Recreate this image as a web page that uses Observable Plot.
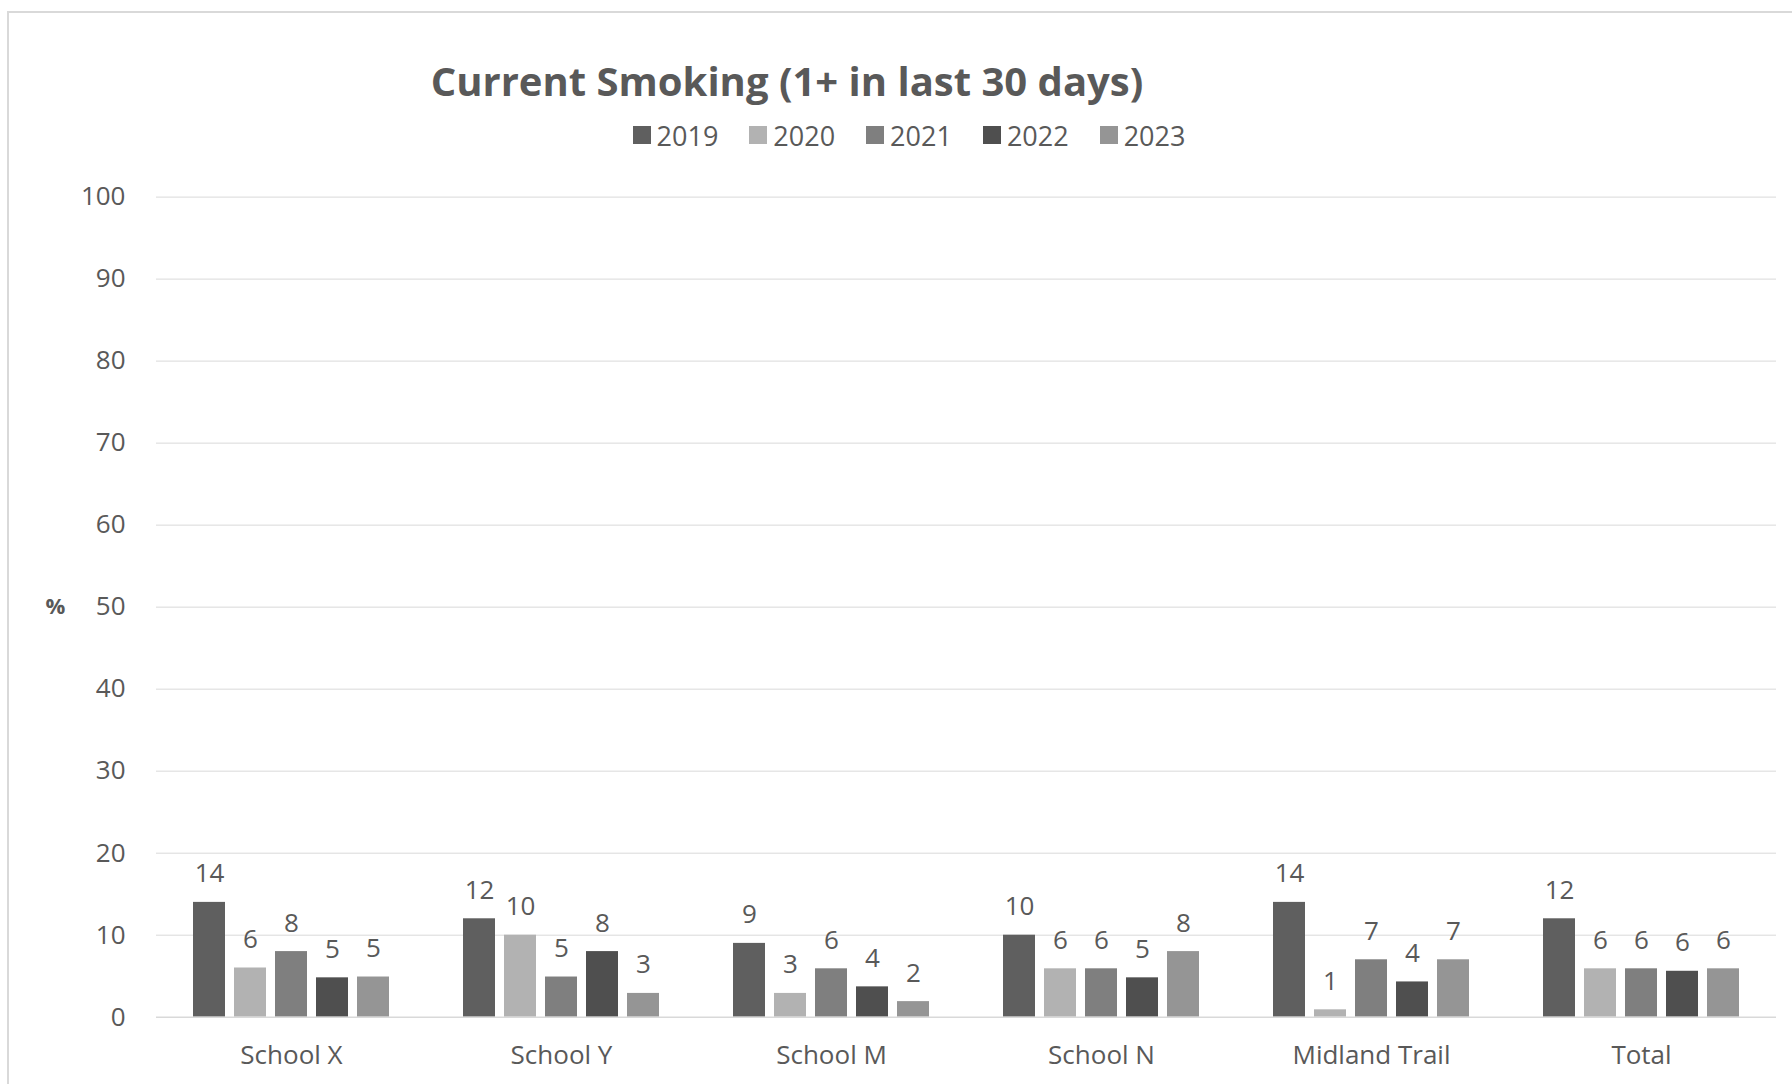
<!DOCTYPE html>
<html>
<head>
<meta charset="utf-8">
<script src="https://cdn.jsdelivr.net/npm/d3@7"></script>
<script src="https://cdn.jsdelivr.net/npm/@observablehq/plot@0.6"></script>
<style>
  html, body { margin: 0; padding: 0; background: #fff; overflow: hidden; }
  body { width: 1792px; height: 1084px; position: relative; font-family: "Open Sans", sans-serif; color: #595959; }
  #frame { position: absolute; left: 7px; top: 11px; width: 1800px; height: 1100px; border: 2px solid #d9d9d9; box-sizing: border-box; pointer-events: none; }
  #title { margin-top: 57px; width: 1574px; height: 48px; line-height: 48px; text-align: center; font-size: 40px; font-weight: 700; white-space: nowrap; }
  #legend { margin-top: 14px; width: 1818px; height: 32px; display: flex; justify-content: center; align-items: center; font-size: 27px; white-space: nowrap; }
  .item { display: flex; align-items: center; margin: 0 15.5px; }
  .sw { width: 18px; height: 18px; margin-right: 6px; }
  #chart { margin-top: 2px; }
  #chart svg { display: block; }
</style>
</head>
<body>
<div id="frame"></div>
<div id="title">Current Smoking (1+ in last 30 days)</div>
<div id="legend"></div>
<div id="chart"></div>
<script>
const categories = ["School X", "School Y", "School M", "School N", "Midland Trail", "Total"];
const years = ["2019", "2020", "2021", "2022", "2023"];
const v2019 = [14, 12, 9, 10, 14, 12];
const v2020 = [6, 10, 2.9, 5.9, 0.9, 5.9];
const v2021 = [8, 4.9, 5.9, 5.9, 7, 5.9];
const v2022 = [4.8, 8, 3.7, 4.8, 4.3, 5.6];
const v2023 = [4.9, 2.9, 1.9, 8, 7, 5.9];
const yTicks = [0, 10, 20, 30, 40, 50, 60, 70, 80, 90, 100];
const colors = ["#5f5f5f", "#b2b2b2", "#7f7f7f", "#4f4f4f", "#959595"];
const yLabel = "%";

const seriesList = [v2019, v2020, v2021, v2022, v2023];
const data = [];
categories.forEach((c, i) => {
  years.forEach((y, j) => {
    data.push({category: c, year: y, value: seriesList[j][i]});
  });
});

// legend
const legend = document.getElementById("legend");
years.forEach((y, j) => {
  const it = document.createElement("div");
  it.className = "item";
  const sw = document.createElement("div");
  sw.className = "sw";
  sw.style.background = colors[j];
  const t = document.createElement("span");
  t.textContent = y;
  it.appendChild(sw);
  it.appendChild(t);
  legend.appendChild(it);
});

const fmt = d3.format(".0f");

const chart = Plot.plot({
  width: 1792,
  height: 931,
  marginTop: 43.6,
  marginBottom: 67.3,
  marginLeft: 156,
  marginRight: 16,
  style: {fontFamily: "Open Sans", fontSize: "26px", color: "#595959", background: "transparent", overflow: "visible"},
  fx: {domain: categories, padding: 0, label: null, tickSize: 0, tickPadding: 28},
  x: {domain: years, paddingInner: 0.215, paddingOuter: 0.8675, axis: null},
  y: {domain: [0, 100], ticks: yTicks, tickSize: 0, tickPadding: 31, label: null, tickFormat: d3.format("d")},
  color: {domain: years, range: colors},
  facet: {data: data, x: "category"},
  marks: [
    Plot.ruleY(yTicks.filter(d => d > 0), {stroke: "#d9d9d9", strokeWidth: 1}),
    Plot.barY(data, {x: "year", y: "value", fill: "year"}),
    Plot.ruleY([0], {stroke: "#d9d9d9", strokeWidth: 1.5}),
    Plot.text(data, {x: "year", y: "value", text: d => fmt(d.value), dy: -20, lineAnchor: "bottom", fill: "#595959", fontSize: 26}),
    Plot.text([{category: categories[0], y: 50}], {fx: "category", y: "y", text: () => yLabel, frameAnchor: "left", dx: -101, textAnchor: "middle", fontWeight: "bold", fontSize: 22, fill: "#595959", facet: "include"})
  ]
});
document.getElementById("chart").appendChild(chart);
</script>
</body>
</html>
